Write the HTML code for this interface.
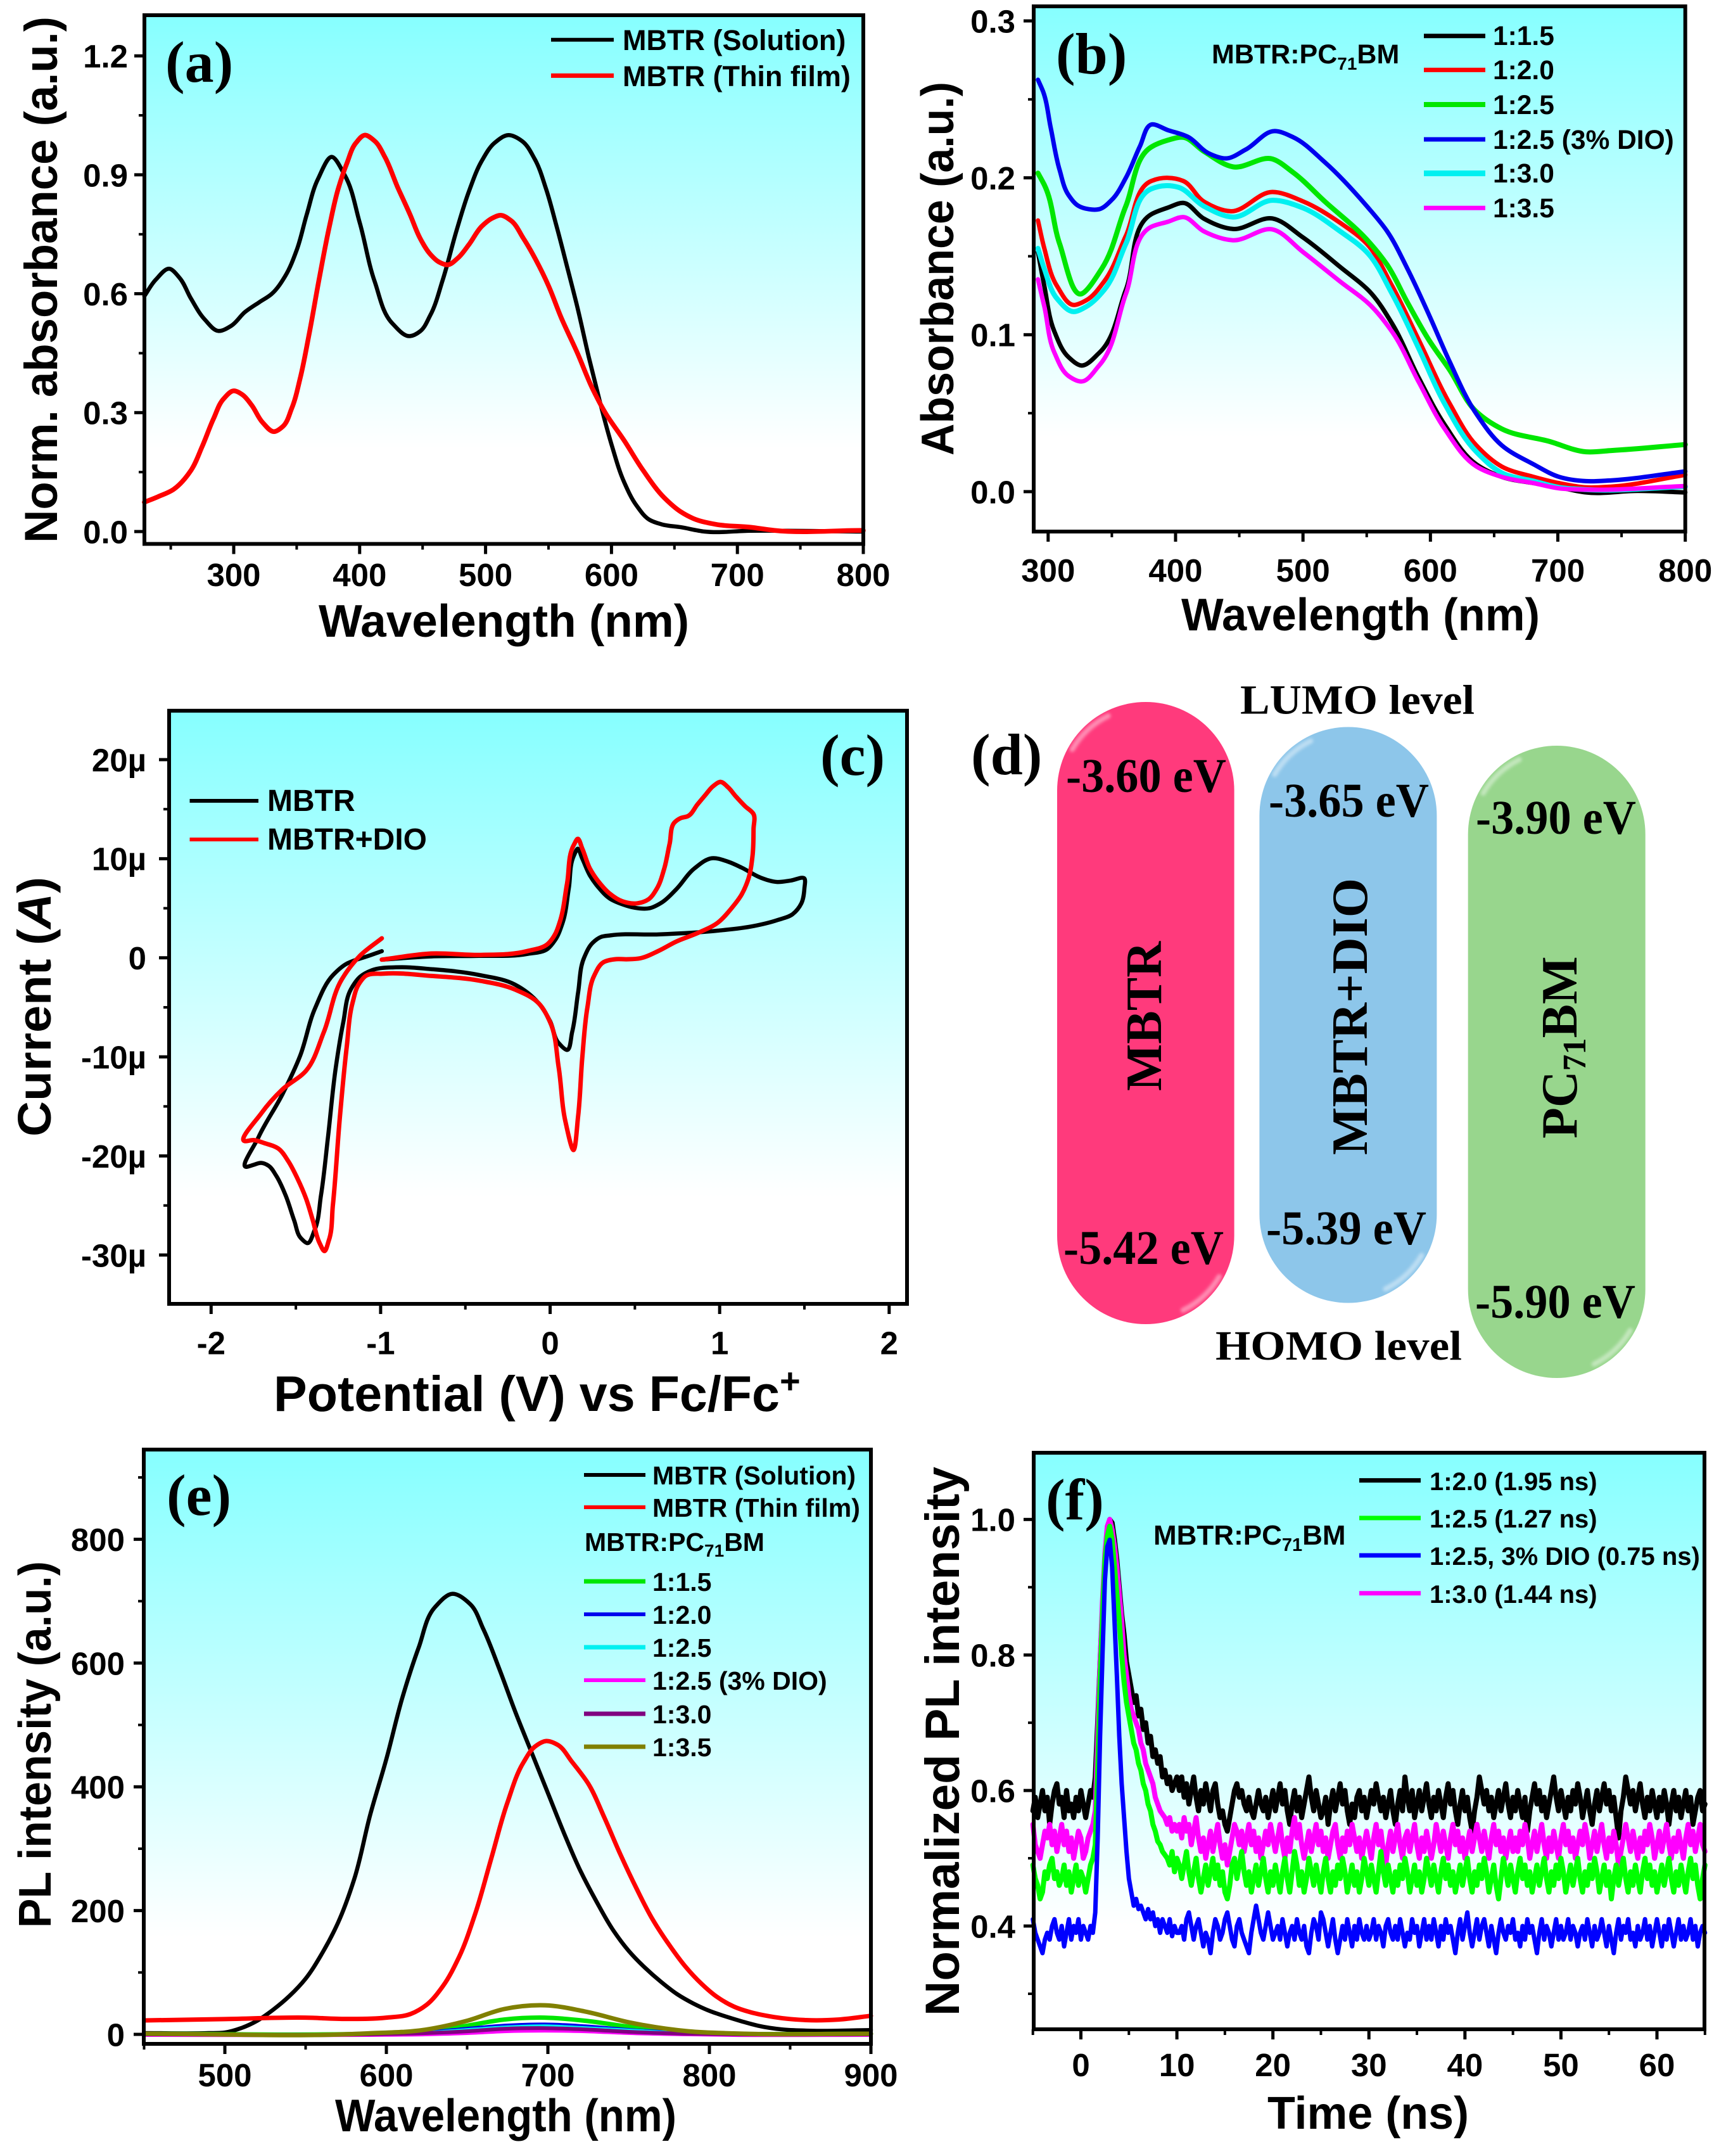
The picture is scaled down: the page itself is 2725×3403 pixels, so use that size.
<!DOCTYPE html>
<html lang="en">
<head>
<meta charset="utf-8">
<title>MBTR optical and electrochemical characterisation</title>
<style>
html,body{margin:0;padding:0;background:#fff;}
svg{display:block;}
text{font-family:"Liberation Sans",sans-serif;font-weight:700;fill:#000;}
.serif{font-family:"Liberation Serif",serif;font-weight:700;}
.gloss{fill:none;stroke:#fff;stroke-opacity:.42;stroke-width:8;stroke-linecap:round;filter:url(#soft);}
</style>
</head>
<body>
<svg id="figure" xmlns="http://www.w3.org/2000/svg" width="2725" height="3403" viewBox="0 0 2725 3403">
  <defs>
    <linearGradient id="plotBg" x1="0" y1="0" x2="0" y2="1">
      <stop offset="0" stop-color="#86ffff"/>
      <stop offset="0.82" stop-color="#ffffff"/>
      <stop offset="1" stop-color="#ffffff"/>
    </linearGradient>
    <filter id="soft" x="-20%" y="-20%" width="140%" height="140%"><feGaussianBlur stdDeviation="2.5"/></filter>
  </defs>

  <rect x="0" y="0" width="2725" height="3403" fill="#ffffff"/>

  <!-- PANEL A -->
  <g id="panel-a">
    <g id="a-plot"></g>
    <text class="serif" x="261" y="129" font-size="92">(a)</text>
    <line x1="870" y1="62.7" x2="969" y2="62.7" stroke="#000" stroke-width="6"/>
    <text x="983" y="79" font-size="45">MBTR (Solution)</text>
    <line x1="870" y1="119.4" x2="969" y2="119.4" stroke="#ff0000" stroke-width="7"/>
    <text x="983" y="136" font-size="45">MBTR (Thin film)</text>
    <text x="503" y="1005" font-size="72" textLength="585" lengthAdjust="spacingAndGlyphs">Wavelength (nm)</text>
    <text transform="translate(90,857) rotate(-90)" font-size="73" textLength="831" lengthAdjust="spacingAndGlyphs">Norm. absorbance (a.u.)</text>
  </g>

  <!-- PANEL B -->
  <g id="panel-b">
    <g id="b-plot"></g>
    <text class="serif" x="1667" y="116" font-size="92">(b)</text>
    <text x="1913" y="100" font-size="43">MBTR:PC<tspan font-size="28" dy="10">71</tspan><tspan dy="-10">BM</tspan></text>
    <line x1="2248" y1="56.7" x2="2345" y2="56.7" stroke="#000" stroke-width="7"/>
    <text x="2357" y="71" font-size="42.5">1:1.5</text>
    <line x1="2248" y1="110.4" x2="2345" y2="110.4" stroke="#ff0000" stroke-width="7"/>
    <text x="2357" y="125" font-size="42.5">1:2.0</text>
    <line x1="2248" y1="165" x2="2345" y2="165" stroke="#00e600" stroke-width="8"/>
    <text x="2357" y="180" font-size="42.5">1:2.5</text>
    <line x1="2248" y1="220" x2="2345" y2="220" stroke="#0000ee" stroke-width="7"/>
    <text x="2357" y="235" font-size="42.5">1:2.5 (3% DIO)</text>
    <line x1="2248" y1="273.6" x2="2345" y2="273.6" stroke="#00f0f0" stroke-width="9"/>
    <text x="2357" y="288" font-size="42.5">1:3.0</text>
    <line x1="2248" y1="328.3" x2="2345" y2="328.3" stroke="#ff00ff" stroke-width="7"/>
    <text x="2357" y="343" font-size="42.5">1:3.5</text>
    <text x="1865" y="995" font-size="72" textLength="566" lengthAdjust="spacingAndGlyphs">Wavelength (nm)</text>
    <text transform="translate(1505,719) rotate(-90)" font-size="72" textLength="590" lengthAdjust="spacingAndGlyphs">Absorbance (a.u.)</text>
  </g>

  <!-- PANEL C -->
  <g id="panel-c">
    <g id="c-plot"></g>
    <text class="serif" x="1295" y="1223" font-size="92">(c)</text>
    <line x1="299.5" y1="1264" x2="408" y2="1264" stroke="#000" stroke-width="6"/>
    <text x="422" y="1280" font-size="48">MBTR</text>
    <line x1="299.5" y1="1325" x2="408" y2="1325" stroke="#ff0000" stroke-width="6"/>
    <text x="422" y="1341" font-size="48">MBTR+DIO</text>
    <text x="432" y="2227" font-size="79">Potential (V) vs Fc/Fc<tspan font-size="56" dy="-28">+</tspan></text>
    <text transform="translate(80,1794) rotate(-90)" font-size="74" textLength="410" lengthAdjust="spacingAndGlyphs">Current (<tspan font-style="italic">A</tspan>)</text>
  </g>

  <!-- PANEL D -->
  <g id="panel-d">
    <text class="serif" x="1533" y="1222" font-size="92">(d)</text>
    <rect x="1669" y="1108" width="279.6" height="982" rx="139.8" ry="139.8" fill="#ff3a7c"/>
    <path class="gloss" d="M1692.8 1183A132 132 0 0 1 1749.8 1130"/>
    <path class="gloss" d="M1924.8 2015A132 132 0 0 1 1867.8 2068"/>
    <rect x="1988.4" y="1147.5" width="280" height="909" rx="140" ry="140" fill="#8dc6ea"/>
    <path class="gloss" d="M2012.4 1222.5A132 132 0 0 1 2069.4 1169.5"/>
    <path class="gloss" d="M2244.4 1981.5A132 132 0 0 1 2187.4 2034.5"/>
    <rect x="2317.7" y="1177" width="280" height="998" rx="140" ry="140" fill="#98d68d"/>
    <path class="gloss" d="M2341.7 1252A132 132 0 0 1 2398.7 1199"/>
    <path class="gloss" d="M2573.7 2100A132 132 0 0 1 2516.7 2153"/>
    <text class="serif" x="1958" y="1126.6" font-size="66" textLength="370" lengthAdjust="spacingAndGlyphs">LUMO level</text>
    <text class="serif" x="1919" y="2146" font-size="66" textLength="389" lengthAdjust="spacingAndGlyphs">HOMO level</text>
    <text class="serif" x="1683" y="1250" font-size="76" textLength="253" lengthAdjust="spacingAndGlyphs">-3.60 eV</text>
    <text class="serif" x="2003" y="1289" font-size="76" textLength="253" lengthAdjust="spacingAndGlyphs">-3.65 eV</text>
    <text class="serif" x="2330" y="1316" font-size="76" textLength="253" lengthAdjust="spacingAndGlyphs">-3.90 eV</text>
    <text class="serif" x="1679" y="1995" font-size="76" textLength="253" lengthAdjust="spacingAndGlyphs">-5.42 eV</text>
    <text class="serif" x="1999" y="1964" font-size="76" textLength="253" lengthAdjust="spacingAndGlyphs">-5.39 eV</text>
    <text class="serif" x="2329" y="2080" font-size="76" textLength="253" lengthAdjust="spacingAndGlyphs">-5.90 eV</text>
    <text class="serif" transform="translate(1833,1722) rotate(-90)" font-size="80" textLength="236" lengthAdjust="spacingAndGlyphs">MBTR</text>
    <text class="serif" transform="translate(2158,1823) rotate(-90)" font-size="80" textLength="437" lengthAdjust="spacingAndGlyphs">MBTR+DIO</text>
    <text class="serif" transform="translate(2489,1797) rotate(-90)" font-size="80">PC<tspan font-size="52" dy="14">71</tspan><tspan dy="-14">BM</tspan></text>
  </g>

  <!-- PANEL E -->
  <g id="panel-e">
    <g id="e-plot"></g>
    <text class="serif" x="263" y="2391" font-size="92">(e)</text>
    <line x1="922" y1="2328" x2="1019" y2="2328" stroke="#000" stroke-width="6"/>
    <text x="1030" y="2343" font-size="41">MBTR (Solution)</text>
    <line x1="922" y1="2379" x2="1019" y2="2379" stroke="#ff0000" stroke-width="6"/>
    <text x="1030" y="2394" font-size="41">MBTR (Thin film)</text>
    <text x="923" y="2448" font-size="41">MBTR:PC<tspan font-size="28" dy="9">71</tspan><tspan dy="-9">BM</tspan></text>
    <line x1="922" y1="2496" x2="1019" y2="2496" stroke="#00e600" stroke-width="7"/>
    <text x="1030" y="2511" font-size="41">1:1.5</text>
    <line x1="922" y1="2548" x2="1019" y2="2548" stroke="#0000ee" stroke-width="6"/>
    <text x="1030" y="2563" font-size="41">1:2.0</text>
    <line x1="922" y1="2600" x2="1019" y2="2600" stroke="#00f0f0" stroke-width="7"/>
    <text x="1030" y="2615" font-size="41">1:2.5</text>
    <line x1="922" y1="2652" x2="1019" y2="2652" stroke="#ff00ff" stroke-width="6"/>
    <text x="1030" y="2667" font-size="41">1:2.5 (3% DIO)</text>
    <line x1="922" y1="2705" x2="1019" y2="2705" stroke="#800080" stroke-width="7"/>
    <text x="1030" y="2720" font-size="41">1:3.0</text>
    <line x1="922" y1="2757" x2="1019" y2="2757" stroke="#808000" stroke-width="7"/>
    <text x="1030" y="2772" font-size="41">1:3.5</text>
    <text x="529" y="3364" font-size="72" textLength="539" lengthAdjust="spacingAndGlyphs">Wavelength (nm)</text>
    <text transform="translate(80,3043) rotate(-90)" font-size="72" textLength="579" lengthAdjust="spacingAndGlyphs">PL intensity (a.u.)</text>
  </g>

  <!-- PANEL F -->
  <g id="panel-f">
    <g id="f-plot"></g>
    <text class="serif" x="1651" y="2398" font-size="92">(f)</text>
    <text x="1821" y="2438" font-size="44">MBTR:PC<tspan font-size="29" dy="10">71</tspan><tspan dy="-10">BM</tspan></text>
    <line x1="2146" y1="2336.6" x2="2243" y2="2336.6" stroke="#000" stroke-width="7"/>
    <text x="2257" y="2352" font-size="40">1:2.0 (1.95 ns)</text>
    <line x1="2146" y1="2396" x2="2243" y2="2396" stroke="#00ff00" stroke-width="7"/>
    <text x="2257" y="2411" font-size="40">1:2.5 (1.27 ns)</text>
    <line x1="2146" y1="2455" x2="2243" y2="2455" stroke="#0000ff" stroke-width="7"/>
    <text x="2257" y="2470" font-size="40">1:2.5, 3% DIO (0.75 ns)</text>
    <line x1="2146" y1="2514.7" x2="2243" y2="2514.7" stroke="#ff00ff" stroke-width="7"/>
    <text x="2257" y="2530" font-size="40">1:3.0 (1.44 ns)</text>
    <text x="2001" y="3360" font-size="72" textLength="318" lengthAdjust="spacingAndGlyphs">Time (ns)</text>
    <text transform="translate(1514,3182) rotate(-90)" font-size="76" textLength="867" lengthAdjust="spacingAndGlyphs">Normalized PL intensity</text>
  </g>
</svg>

<script>
// ---------- Panel (a) data ----------
const aSolutionNm = [229,238,249,257,266,277,288,298,309,320,330,341,350,358,367,378,388,400,412,426,440,448,456,466,477,487,497,507,518,529,539,548,556,565,573,582,591,600,610,620,630,640,655,674,710,800];
const aSolutionAbs = [.594,.635,.663,.64,.588,.535,.506,.519,.554,.578,.599,.645,.71,.80,.89,.945,.90,.78,.63,.525,.493,.505,.545,.635,.76,.86,.935,.98,1.0,.985,.94,.865,.775,.665,.565,.44,.325,.22,.125,.065,.03,.018,.011,0,.002,0];
const aFilmNm = [229,240,252,266,275,284,292,300,307,314,323,332,339,346,353,360,368,376,383,390,397,404,412,420,430,440,448,456,463,470,478,487,497,505,512,520,530,540,550,560,573,585,595,610,625,642,655,665,683,710,729,800];
const aFilmAbs = [.074,.088,.106,.154,.215,.285,.335,.355,.345,.32,.275,.252,.265,.31,.39,.50,.64,.77,.865,.93,.98,1.0,.985,.945,.87,.80,.74,.70,.68,.673,.69,.725,.77,.79,.798,.785,.74,.685,.62,.54,.45,.36,.30,.23,.155,.085,.05,.033,.018,.011,.003,.003];
const aXTicks = [300,400,500,600,700,800];
const aXTickLabels = ['300','400','500','600','700','800'];
const aXMinor = [250,350,450,550,650,750];
const aYTicks = [0,0.3,0.6,0.9,1.2];
const aYTickLabels = ['0.0','0.3','0.6','0.9','1.2'];
const aYMinor = [0.15,0.45,0.75,1.05];

// ---------- Panel (b) data ----------
const bBlackNm = [292,297,305,316,326,340,361,381,394,406,422,445,476,500,529,554,570,591,611,636,656,681,701,722,763,800];
const bBlackAbs = [.1527,.131,.1018,.0857,.0804,.0884,.1286,.1768,.181,.184,.1741,.1674,.1741,.162,.1433,.126,.107,.0723,.0429,.0174,.0094,.0054,.0027,-.0005,.0005,-.0005];
const bRedNm = [292,297,307,320,330,344,361,381,394,406,422,443,476,500,529,550,570,591,615,636,656,681,701,722,742,800];
const bRedAbs = [.1728,.155,.131,.119,.122,.134,.163,.198,.2,.198,.185,.1787,.191,.185,.1714,.158,.131,.0964,.0563,.0295,.016,.0094,.0054,.0027,.0032,.0107];
const bGreenNm = [292,297,309,326,342,361,381,394,406,422,445,476,492,517,550,566,582,599,615,636,656,693,722,742,800];
const bGreenAbs = [.203,.1955,.158,.126,.142,.182,.2197,.224,.2258,.217,.207,.212,.2036,.185,.1607,.1446,.1205,.0964,.0777,.051,.04,.0321,.0254,.0262,.03];
const bBlueNm = [292,296,302,309,316,324,332,340,350,361,372,381,394,410,426,440,455,478,492,517,550,566,582,599,615,636,656,681,701,722,742,800];
const bBlueAbs = [.2625,.255,.232,.205,.189,.182,.18,.18,.186,.2,.22,.234,.2304,.226,.2156,.2124,.218,.2298,.226,.21,.182,.166,.142,.1125,.083,.0496,.0295,.0174,.0094,.0067,.0072,.0129];
const bCyanNm = [292,297,307,320,330,344,361,381,392,402,422,445,476,500,529,550,570,591,611,636,656,681,701,722,800];
const bCyanAbs = [.155,.142,.123,.1147,.118,.1286,.158,.193,.195,.194,.182,.175,.1857,.1808,.166,.1527,.126,.091,.0563,.0254,.012,.0067,.0027,.0013,.0032];
const bMagentaNm = [292,297,305,316,326,340,361,381,394,406,422,445,476,500,529,554,570,591,611,636,656,681,701,722,800];
const bMagentaAbs = [.1353,.118,.0884,.0737,.0702,.0804,.1259,.1688,.172,.175,.166,.1602,.1671,.1527,.134,.1179,.1018,.0696,.0402,.0161,.0094,.0054,.0021,.0013,.0035];
const bXTicks = [300,400,500,600,700,800];
const bXTickLabels = ['300','400','500','600','700','800'];
const bXMinor = [350,450,550,650,750];
const bYTicks = [0,0.1,0.2,0.3];
const bYTickLabels = ['0.0','0.1','0.2','0.3'];
const bYMinor = [0.05,0.15,0.25];

// ---------- Panel (c) data ----------
const cMbtrV = [-.993,-.70,-.42,-.137,-.014,.03,.074,.11,.14,.162,.19,.235,.285,.35,.426,.5,.585,.66,.743,.85,.954,1.05,1.13,1.24,1.34,1.42,1.5,1.5,1.482,1.43,1.34,1.2,.99,.637,.356,.3,.25,.2,.165,.13,.099,.05,0,-.067,-.208,-.42,-.70,-.91,-1.05,-1.12,-1.176,-1.22,-1.264,-1.31,-1.352,-1.39,-1.433,-1.47,-1.51,-1.56,-1.616,-1.66,-1.704,-1.75,-1.79,-1.72,-1.58,-1.475,-1.387,-1.28,-1.2,-1.158,-1.07,-.993];
const cMbtrI = [-.19,.14,.19,.38,.91,1.8,3.56,7,10.3,11,10,8.3,7.1,6,5.4,5.05,5,5.6,6.9,9,10.05,9.7,9.1,8.1,7.65,7.8,8,7,5.5,4.4,3.8,3.2,2.74,2.36,2.26,2.1,1.5,0,-3.5,-7.5,-9.3,-8.6,-6.4,-4.6,-2.7,-1.73,-1.15,-.96,-1.25,-1.9,-3.2,-6.5,-11,-18,-24,-27.5,-28.8,-28.3,-26.5,-24,-22,-21,-20.7,-20.9,-21.1,-18.1,-13.8,-9.9,-5.1,-1.73,-.6,-.29,.2,.67];
const cDioV = [-.993,-.70,-.42,-.137,-.014,.03,.056,.1,.14,.162,.19,.235,.285,.35,.426,.514,.58,.63,.673,.705,.736,.77,.813,.87,.919,.96,1.007,1.05,1.095,1.15,1.2,1.2,1.194,1.17,1.13,1.07,.99,.87,.743,.64,.532,.45,.39,.31,.26,.22,.19,.165,.137,.09,.05,0,-.067,-.208,-.42,-.70,-.98,-1.088,-1.13,-1.165,-1.2,-1.24,-1.282,-1.305,-1.332,-1.36,-1.40,-1.44,-1.49,-1.546,-1.6,-1.687,-1.75,-1.8,-1.704,-1.58,-1.44,-1.335,-1.23,-1.123,-.993];
const cDioI = [-.19,.43,.29,.67,1.4,2.4,3.56,7.5,11.4,12,11,9,7.7,6.5,5.7,5.5,5.9,7,9,11.5,13.7,14.1,14.3,15.5,16.5,17.3,17.75,17.2,16.3,15.3,14.5,13,10.3,8,6.4,5,3.56,2.5,1.63,.7,-.05,-.15,-.14,-.5,-1.8,-5,-10,-16,-19.4,-16.5,-11,-6.5,-4.6,-3.2,-2.3,-1.83,-1.6,-1.83,-2.7,-4.5,-9,-16,-25,-28.5,-29.6,-28.8,-26.5,-24.3,-22.3,-20.5,-19.3,-18.7,-18.4,-18.5,-15.7,-13.3,-11.4,-7.5,-2.2,.19,1.97];
const cXTicks = [-2,-1,0,1,2];
const cXTickLabels = ['-2','-1','0','1','2'];
const cXMinor = [-1.5,-0.5,0.5,1.5];
const cYTicks = [20,10,0,-10,-20,-30];
const cYTickLabels = ['20µ','10µ','0','-10µ','-20µ','-30µ'];
const cYMinor = [15,5,-5,-15,-25];

// ---------- Panel (e) data ----------
const eSolutionNm = [450,490,500,510,520,530,540,550,560,570,580,590,600,610,620,630,641,652,660,670,680,690,700,710,720,730,740,750,760,770,780,790,800,810,820,830,845,860,900];
const eSolutionPL = [2,2,3,10,22,40,62,90,130,180,250,355,445,545,625,690,712,695,655,590,520,455,390,325,265,215,170,135,108,85,65,50,38,29,21,14,8,6,7];
const eFilmNm = [450,500,550,575,600,615,625,635,645,655,665,675,685,692,699,706,715,725,735,745,755,765,775,785,795,805,815,825,840,860,880,900];
const eFilmPL = [22.5,24.7,27,25,27,33,48,78,125,195,285,375,440,465,474,468,440,405,350,290,235,185,145,110,82,60,45,36,28,23,24,30];
const eBlendNm = [450,588,624,650,673,698,723,751,787,815,900];
const eGreenPL = [1,1,4,14,24,27,22,12,3,1,1];
const eBluePL = [0,0,3,9,14,16,13,7,2,0,0];
const eCyanPL = [0,0,2,7,11,13,10,6,1,0,0];
const eMagentaPL = [-1,-1,0,2,5,6,5,2,0,-1,-1];
const ePurplePL = [0,0,2,5,9,10,8,4,1,0,0];
const eOlivePL = [1,1.5,7.5,22,41,47,37,19,5,1.5,1];
const eXTicks = [500,600,700,800,900];
const eXTickLabels = ['500','600','700','800','900'];
const eXMinor = [450,550,650,750,850];
const eYTicks = [0,200,400,600,800];
const eYTickLabels = ['0','200','400','600','800'];
const eYMinor = [100,300,500,700,900];

// ---------- Panel (f) data ----------
const fTime = [
-5,-4.75,-4.5,-4.25,-4,-3.75,-3.5,-3.25,-3,-2.75,-2.5,-2.25,-2,-1.75,-1.5,-1.25,-1,-.75,-.5,-.25,0,.25,.5,.75,1,1.25,
1.5,1.75,2,2.25,2.5,2.75,3,3.25,3.5,3.75,4,4.25,4.5,4.75,5,5.25,5.5,5.75,6,6.25,6.5,6.75,7,7.25,7.5,7.75,8,8.25,8.5,8.75,9,9.25,9.5,9.75,10,
10.25,10.5,10.75,11,11.25,11.5,11.75,12,12.25,12.5,12.75,13,13.25,13.5,13.75,14,14.25,14.5,14.75,15,
15.25,15.5,15.75,16,16.25,16.5,16.75,17,17.25,17.5,17.75,18,18.25,18.5,18.75,19,19.25,19.5,19.75,20,
20.25,20.5,20.75,21,21.25,21.5,21.75,22,22.25,22.5,22.75,23,23.25,23.5,23.75,24,24.25,24.5,24.75,25,
25.25,25.5,25.75,26,26.25,26.5,26.75,27,27.25,27.5,27.75,28,28.25,28.5,28.75,29,29.25,29.5,29.75,30,
30.25,30.5,30.75,31,31.25,31.5,31.75,32,32.25,32.5,32.75,33,33.25,33.5,33.75,34,34.25,34.5,34.75,35,
35.25,35.5,35.75,36,36.25,36.5,36.75,37,37.25,37.5,37.75,38,38.25,38.5,38.75,39,39.25,39.5,39.75,40,
40.25,40.5,40.75,41,41.25,41.5,41.75,42,42.25,42.5,42.75,43,43.25,43.5,43.75,44,44.25,44.5,44.75,45,
45.25,45.5,45.75,46,46.25,46.5,46.75,47,47.25,47.5,47.75,48,48.25,48.5,48.75,49,49.25,49.5,49.75,50,
50.25,50.5,50.75,51,51.25,51.5,51.75,52,52.25,52.5,52.75,53,53.25,53.5,53.75,54,54.25,54.5,54.75,55,
55.25,55.5,55.75,56,56.25,56.5,56.75,57,57.25,57.5,57.75,58,58.25,58.5,58.75,59,59.25,59.5,59.75,60,
60.25,60.5,60.75,61,61.25,61.5,61.75,62,62.25,62.5,62.75,63,63.25,63.5,63.75,64,64.25,64.5,64.75,65];
const fBlack = [.57,.59,.56,.58,.60,.57,.59,.55,.58,.60,.61,.58,.59,.56,.60,.57,.58,.56,.59,.57,.60,.58,.56,.58,.60,.59,
.62,.70,.79,.87,.94,.98,1.0,.995,.97,.94,.90,.86,.83,.79,.77,.75,.73,.74,.71,.72,.69,.70,.67,.68,.65,.66,.64,.65,.62,.63,.61,.62,.60,.61,.62,
.60,.62,.59,.61,.58,.60,.62,.59,.57,.60,
.58,.61,.59,.57,.60,.61,.58,.56,.57,.55,
.54,.56,.58,.60,.61,.59,.60,.58,.57,.59,
.57,.56,.58,.60,.58,.57,.59,.56,.58,.60,
.57,.59,.61,.58,.60,.57,.55,.58,.60,.57,
.59,.56,.58,.60,.62,.59,.57,.60,.58,.56,
.57,.59,.55,.58,.60,.57,.59,.61,.58,.60,
.57,.55,.58,.56,.59,.60,.57,.59,.56,.58,
.60,.58,.61,.59,.57,.59,.56,.58,.60,.57,
.55,.58,.60,.57,.62,.59,.57,.60,.56,.58,
.60,.57,.59,.61,.58,.56,.59,.57,.60,.58,
.56,.59,.61,.58,.60,.57,.55,.58,.60,.57,
.59,.56,.54,.57,.59,.62,.60,.58,.60,.57,
.59,.56,.58,.60,.57,.59,.61,.58,.56,.59,
.57,.60,.58,.56,.59,.54,.57,.59,.61,.58,
.60,.57,.59,.56,.58,.60,.62,.59,.57,.60,
.58,.56,.59,.57,.60,.58,.61,.59,.56,.58,
.60,.57,.55,.58,.60,.57,.59,.61,.58,.60,
.57,.59,.56,.53,.57,.59,.62,.60,.58,.60,
.57,.59,.61,.58,.56,.59,.57,.60,.58,.56,
.59,.57,.60,.58,.55,.58,.60,.57,.59,.56,
.58,.60,.57,.59,.55,.57,.59,.60,.57,.58];
const fMagenta = [.55,.52,.51,.50,.52,.54,.53,.55,.52,.54,.51,.53,.55,.52,.54,.51,.53,.50,.52,.54,.53,.50,.51,.53,.54,.55,
.57,.68,.79,.88,.95,.99,1.0,.985,.96,.93,.89,.85,.80,.77,.74,.72,.71,.70,.69,.67,.66,.64,.63,.62,.61,.59,.58,.57,.565,.56,.55,.56,.54,.55,.54,
.55,.53,.56,.54,.55,.52,.54,.56,.53,.51,
.53,.50,.52,.54,.51,.53,.55,.52,.50,.52,
.49,.51,.53,.55,.54,.52,.54,.51,.53,.55,
.52,.54,.51,.53,.50,.52,.54,.52,.55,.53,
.51,.53,.55,.52,.50,.53,.51,.54,.56,.53,
.55,.52,.50,.52,.54,.51,.53,.55,.52,.54,
.51,.53,.50,.52,.54,.55,.52,.50,.53,.51,
.54,.52,.55,.53,.51,.53,.50,.52,.54,.52,
.50,.53,.55,.52,.54,.51,.49,.52,.54,.51,
.53,.55,.52,.50,.53,.54,.51,.53,.55,.52,
.50,.53,.51,.54,.52,.50,.52,.55,.53,.51,
.54,.52,.50,.53,.55,.52,.54,.51,.53,.50,
.52,.54,.51,.53,.55,.53,.51,.54,.52,.50,
.53,.55,.52,.54,.51,.53,.50,.52,.54,.51,
.53,.51,.54,.52,.55,.53,.50,.52,.54,.51,
.53,.55,.52,.50,.53,.51,.54,.52,.50,.53,
.55,.52,.54,.51,.53,.50,.52,.54,.52,.55,
.53,.50,.52,.54,.51,.53,.55,.52,.50,.53,
.51,.54,.52,.49,.51,.53,.55,.53,.51,.54,
.52,.50,.53,.51,.54,.52,.55,.53,.50,.52,
.54,.51,.53,.55,.52,.50,.53,.51,.54,.52,
.50,.53,.55,.52,.54,.51,.53,.55,.52,.51];
const fGreen = [.49,.47,.46,.44,.45,.48,.47,.49,.50,.47,.48,.46,.47,.49,.46,.48,.45,.47,.49,.46,.48,.47,.45,.47,.49,.50,
.52,.63,.76,.86,.94,.975,.99,.97,.93,.89,.85,.80,.76,.73,.71,.69,.67,.66,.64,.63,.61,.60,.58,.57,.55,.54,.525,.52,.51,.505,.50,.49,.51,.48,.50,
.49,.47,.49,.51,.48,.46,.48,.50,.47,.45,
.47,.49,.46,.48,.50,.47,.49,.46,.48,.45,
.44,.46,.49,.50,.47,.49,.51,.48,.46,.48,
.45,.47,.49,.46,.48,.50,.47,.45,.48,.46,
.49,.47,.45,.48,.50,.47,.45,.48,.51,.49,
.46,.48,.45,.47,.50,.48,.46,.49,.47,.45,
.48,.50,.47,.45,.48,.46,.49,.47,.50,.48,
.45,.47,.49,.46,.48,.45,.47,.50,.48,.46,
.49,.47,.45,.48,.51,.48,.46,.49,.47,.45,
.48,.46,.49,.47,.50,.48,.45,.47,.49,.46,
.48,.45,.47,.50,.48,.46,.49,.47,.45,.48,
.50,.47,.49,.46,.48,.45,.47,.49,.46,.48,
.50,.47,.45,.48,.46,.49,.47,.50,.48,.45,
.47,.49,.46,.44,.47,.50,.48,.46,.49,.47,
.45,.48,.50,.47,.49,.46,.48,.45,.47,.49,
.46,.48,.50,.47,.45,.48,.46,.49,.47,.50,
.48,.45,.47,.49,.46,.48,.50,.47,.45,.48,
.46,.49,.47,.50,.48,.45,.47,.49,.46,.48,
.44,.47,.49,.46,.48,.50,.47,.45,.48,.46,
.49,.47,.45,.48,.50,.47,.49,.46,.48,.45,
.47,.49,.46,.48,.50,.47,.45,.48,.46,.49,
.47,.45,.48,.50,.47,.49,.46,.44,.47,.49];
const fBlue = [.41,.39,.38,.37,.36,.38,.39,.38,.40,.41,.39,.38,.40,.37,.39,.41,.38,.40,.39,.41,.38,.40,.39,.38,.40,.39,
.42,.53,.68,.80,.91,.96,.97,.93,.85,.77,.68,.61,.56,.51,.47,.45,.43,.44,.425,.43,.42,.41,.425,.41,.42,.40,.41,.39,.41,.40,.39,.41,.385,.40,.39,
.39,.40,.38,.41,.42,.40,.38,.40,.41,.39,
.37,.39,.38,.36,.39,.41,.40,.38,.39,.41,
.42,.40,.38,.37,.40,.41,.39,.38,.37,.36,
.39,.41,.43,.41,.39,.38,.40,.42,.40,.38,
.39,.40,.38,.41,.39,.37,.39,.40,.38,.41,
.39,.38,.40,.37,.36,.39,.41,.40,.38,.42,
.41,.39,.37,.39,.41,.38,.36,.38,.40,.38,
.41,.39,.37,.40,.38,.41,.39,.38,.40,.38,
.39,.41,.38,.40,.39,.37,.40,.41,.39,.38,
.40,.38,.41,.39,.37,.39,.38,.41,.39,.40,
.37,.39,.41,.38,.40,.38,.41,.39,.37,.40,
.38,.41,.39,.40,.38,.36,.39,.41,.38,.40,
.42,.39,.37,.39,.41,.38,.40,.41,.39,.37,
.40,.38,.36,.39,.41,.39,.38,.40,.39,.41,
.38,.39,.37,.40,.38,.41,.39,.40,.38,.36,
.39,.41,.38,.40,.39,.37,.39,.41,.38,.40,
.38,.39,.41,.38,.40,.39,.37,.39,.40,.38,
.41,.39,.37,.40,.38,.39,.41,.39,.37,.40,
.38,.36,.39,.41,.38,.40,.39,.41,.38,.39,
.37,.40,.38,.39,.41,.38,.40,.37,.39,.41,
.39,.37,.40,.38,.41,.39,.37,.39,.41,.38,
.40,.38,.39,.41,.38,.40,.37,.39,.40,.39];
const fXTicks = [0,10,20,30,40,50,60];
const fXTickLabels = ['0','10','20','30','40','50','60'];
const fXMinor = [-5,5,15,25,35,45,55,65];
const fYTicks = [0.4,0.6,0.8,1.0];
const fYTickLabels = ['0.4','0.6','0.8','1.0'];
const fYMinor = [0.3,0.5,0.7,0.9];

// ---------- Helpers ----------
const NS = 'http://www.w3.org/2000/svg';
function scale(d0, d1, r0, r1) { return v => r0 + (v - d0) * (r1 - r0) / (d1 - d0); }
function make(tag, parent, props) {
  const node = document.createElementNS(NS, tag);
  for (const k in props) { node.setAttribute(k, props[k]); }
  parent.appendChild(node);
  return node;
}
function curvePath(xs, ys, xf, yf, smooth) {
  const p = xs.map((x, i) => [xf(x), yf(ys[i])]);
  let d = 'M' + p[0][0].toFixed(1) + ' ' + p[0][1].toFixed(1);
  if (!smooth) {
    for (let i = 1; i < p.length; i++) { d += 'L' + p[i][0].toFixed(1) + ' ' + p[i][1].toFixed(1); }
    return d;
  }
  const chord = [];
  for (let i = 1; i < p.length; i++) { chord.push(Math.max(Math.hypot(p[i][0] - p[i - 1][0], p[i][1] - p[i - 1][1]), 0.01)); }
  const tan = p.map((pt, i) => {
    if (i === 0) { return [(p[1][0] - pt[0]) / chord[0], (p[1][1] - pt[1]) / chord[0]]; }
    if (i === p.length - 1) { return [(pt[0] - p[i - 1][0]) / chord[i - 1], (pt[1] - p[i - 1][1]) / chord[i - 1]]; }
    const d1 = chord[i - 1], d2 = chord[i];
    return [
      ((pt[0] - p[i - 1][0]) / d1 * d2 + (p[i + 1][0] - pt[0]) / d2 * d1) / (d1 + d2),
      ((pt[1] - p[i - 1][1]) / d1 * d2 + (p[i + 1][1] - pt[1]) / d2 * d1) / (d1 + d2)
    ];
  });
  for (let i = 1; i < p.length; i++) {
    const h = chord[i - 1] / 3;
    const c1x = p[i - 1][0] + tan[i - 1][0] * h, c1y = p[i - 1][1] + tan[i - 1][1] * h;
    const c2x = p[i][0] - tan[i][0] * h, c2y = p[i][1] - tan[i][1] * h;
    d += 'C' + c1x.toFixed(1) + ' ' + c1y.toFixed(1) + ' ' + c2x.toFixed(1) + ' ' + c2y.toFixed(1) + ' ' + p[i][0].toFixed(1) + ' ' + p[i][1].toFixed(1);
  }
  return d;
}
function drawBackground(parent, box) {
  const bg = make('rect', parent, {x: box.l, y: box.t, width: box.r - box.l, height: box.b - box.t, fill: 'url(#plotBg)'});
  
  
}
function drawCurve(parent, name, xs, ys, xf, yf, color, width, smooth) {
  const path = make('path', parent, {d: curvePath(xs, ys, xf, yf, smooth), fill: 'none', stroke: color, 'stroke-width': width, 'stroke-linejoin': 'round', 'stroke-linecap': 'round'});
  
  
}
function drawFrameAndAxes(parent, box, xf, yf, xTicks, xLabels, xMinor, yTicks, yLabels, yMinor, opts) {
  const frame = make('rect', parent, {x: box.l, y: box.t, width: box.r - box.l, height: box.b - box.t, fill: 'none', stroke: '#000', 'stroke-width': 6});
  
  
  xTicks.forEach((v, i) => {
    const x = xf(v);
    const tick = make('line', parent, {x1: x, x2: x, y1: box.b, y2: box.b + 16, stroke: '#000', 'stroke-width': 5});
    
    
    const label = make('text', parent, {x: x, y: opts.xLabelY, 'text-anchor': 'middle', 'font-size': opts.tickSize});
    label.textContent = xLabels[i];
    
    
  });
  xMinor.forEach(v => {
    const x = xf(v);
    const tick = make('line', parent, {x1: x, x2: x, y1: box.b, y2: box.b + 9, stroke: '#000', 'stroke-width': 4});
    
    
  });
  yTicks.forEach((v, i) => {
    const y = yf(v);
    const tick = make('line', parent, {x1: box.l - 16, x2: box.l, y1: y, y2: y, stroke: '#000', 'stroke-width': 5});
    
    
    const label = make('text', parent, {x: opts.yLabelX, y: y + opts.tickSize * 0.36, 'text-anchor': 'end', 'font-size': opts.tickSize});
    label.textContent = yLabels[i];
    
    
  });
  yMinor.forEach(v => {
    const y = yf(v);
    const tick = make('line', parent, {x1: box.l - 9, x2: box.l, y1: y, y2: y, stroke: '#000', 'stroke-width': 4});
    
    
  });
}

// ---------- Panel (a) ----------
(function () {
  const g = document.getElementById('a-plot');
  const box = {l: 228, r: 1363, t: 24, b: 858.5};
  const x = scale(300, 800, 369, 1363);
  const y = scale(0, 1.2, 839, 88.2);
  drawBackground(g, box);
  drawCurve(g, 'curve-mbtr-solution', aSolutionNm, aSolutionAbs, x, y, '#000', 6.5, true);
  drawCurve(g, 'curve-mbtr-thin-film', aFilmNm, aFilmAbs, x, y, '#ff0000', 7.5, true);
  drawFrameAndAxes(g, box, x, y, aXTicks, aXTickLabels, aXMinor, aYTicks, aYTickLabels, aYMinor, {xLabelY: 925, yLabelX: 202, tickSize: 51});
})();

// ---------- Panel (b) ----------
(function () {
  const g = document.getElementById('b-plot');
  const box = {l: 1632, r: 2660.7, t: 10, b: 839};
  const x = scale(300, 800, 1654.8, 2660.7);
  const y = scale(0, 0.3, 776, 33);
  drawBackground(g, box);
  drawCurve(g, 'curve-b-1-1.5', bBlackNm, bBlackAbs, x, y, '#000', 7, true);
  drawCurve(g, 'curve-b-1-2.0', bRedNm, bRedAbs, x, y, '#ff0000', 7, true);
  drawCurve(g, 'curve-b-1-2.5', bGreenNm, bGreenAbs, x, y, '#00e600', 8, true);
  drawCurve(g, 'curve-b-3-dio', bBlueNm, bBlueAbs, x, y, '#0000ee', 7, true);
  drawCurve(g, 'curve-b-1-3.0', bCyanNm, bCyanAbs, x, y, '#00f0f0', 8, true);
  drawCurve(g, 'curve-b-1-3.5', bMagentaNm, bMagentaAbs, x, y, '#ff00ff', 7, true);
  drawFrameAndAxes(g, box, x, y, bXTicks, bXTickLabels, bXMinor, bYTicks, bYTickLabels, bYMinor, {xLabelY: 918, yLabelX: 1603, tickSize: 51});
})();

// ---------- Panel (c) ----------
(function () {
  const g = document.getElementById('c-plot');
  const box = {l: 267, r: 1432, t: 1121.8, b: 2058};
  const x = scale(-2, 2, 333.3, 1403.8);
  const y = scale(20, -30, 1199, 1980.9);
  drawBackground(g, box);
  drawCurve(g, 'curve-cv-mbtr', cMbtrV, cMbtrI, x, y, '#000', 6.5, true);
  drawCurve(g, 'curve-cv-mbtr-dio', cDioV, cDioI, x, y, '#ff0000', 7, true);
  drawFrameAndAxes(g, box, x, y, cXTicks, cXTickLabels, cXMinor, cYTicks, cYTickLabels, cYMinor, {xLabelY: 2137.6, yLabelX: 231, tickSize: 51});
})();

// ---------- Panel (e) ----------
(function () {
  const g = document.getElementById('e-plot');
  const box = {l: 227, r: 1375, t: 2288, b: 3226};
  const x = scale(500, 900, 355, 1375);
  const y = scale(0, 800, 3211, 2429.6);
  drawBackground(g, box);
  drawCurve(g, 'curve-pl-solution', eSolutionNm, eSolutionPL, x, y, '#000', 6.5, true);
  drawCurve(g, 'curve-pl-thin-film', eFilmNm, eFilmPL, x, y, '#ff0000', 7, true);
  drawCurve(g, 'curve-pl-1-1.5', eBlendNm, eGreenPL, x, y, '#00e600', 7, true);
  drawCurve(g, 'curve-pl-1-2.0', eBlendNm, eBluePL, x, y, '#0000ee', 6, true);
  drawCurve(g, 'curve-pl-1-2.5', eBlendNm, eCyanPL, x, y, '#00f0f0', 6, true);
  drawCurve(g, 'curve-pl-3-dio', eBlendNm, eMagentaPL, x, y, '#ff00ff', 6, true);
  drawCurve(g, 'curve-pl-1-3.0', eBlendNm, ePurplePL, x, y, '#800080', 6, true);
  drawCurve(g, 'curve-pl-1-3.5', eBlendNm, eOlivePL, x, y, '#808000', 7, true);
  drawFrameAndAxes(g, box, x, y, eXTicks, eXTickLabels, eXMinor, eYTicks, eYTickLabels, eYMinor, {xLabelY: 3293, yLabelX: 197, tickSize: 51});
})();

// ---------- Panel (f) ----------
(function () {
  const g = document.getElementById('f-plot');
  const box = {l: 1632, r: 2691, t: 2293, b: 3203};
  const x = scale(0, 60, 1706.5, 2616);
  const y = scale(0.4, 1.0, 3040, 2398.3);
  drawBackground(g, box);
  drawCurve(g, 'curve-decay-1-2.0', fTime, fBlack, x, y, '#000', 8, false);
  drawCurve(g, 'curve-decay-1-3.0', fTime, fMagenta, x, y, '#ff00ff', 8, false);
  drawCurve(g, 'curve-decay-1-2.5', fTime, fGreen, x, y, '#00ff00', 8, false);
  drawCurve(g, 'curve-decay-3-dio', fTime, fBlue, x, y, '#0000ff', 7, false);
  drawFrameAndAxes(g, box, x, y, fXTicks, fXTickLabels, fXMinor, fYTicks, fYTickLabels, fYMinor, {xLabelY: 3277, yLabelX: 1603, tickSize: 51});
})();
</script>
</body>
</html>
